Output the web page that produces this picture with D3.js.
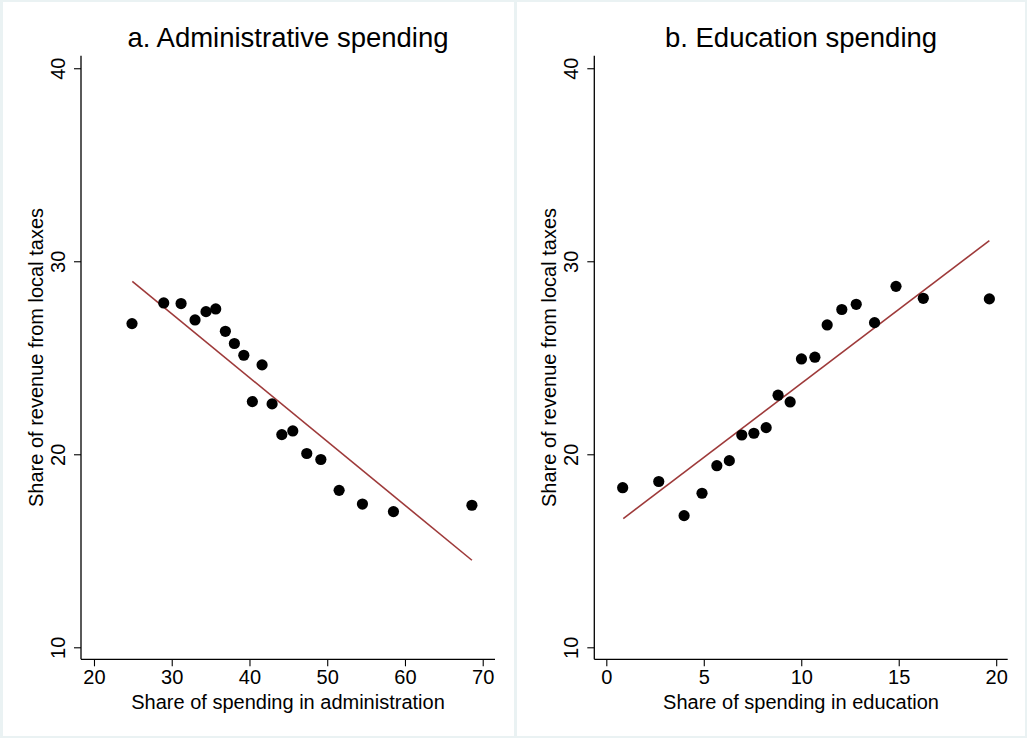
<!DOCTYPE html>
<html>
<head>
<meta charset="utf-8">
<script src="https://cdn.jsdelivr.net/npm/d3@7"></script>
<style>
  html, body { margin: 0; padding: 0; background: #ffffff; }
  svg { display: block; }
  text { font-family: "Liberation Sans", Arial, Helvetica, sans-serif; fill: #000; }
</style>
</head>
<body>
<svg id="chart" width="1027" height="738"></svg>
<script>
// Panel a: share of spending in administration vs. share of revenue from local taxes
const adminX = [24.89, 28.97, 31.20, 33.00, 34.41, 35.66, 36.90, 38.06, 39.27, 41.62,
                40.37, 42.91, 44.16, 45.57, 47.37, 49.18, 51.53, 54.53, 58.52, 68.61];
const adminY = [26.77, 27.84, 27.81, 26.96, 27.39, 27.53, 26.37, 25.74, 25.13, 24.63,
                22.73, 22.61, 21.02, 21.21, 20.04, 19.73, 18.13, 17.42, 17.03, 17.36];
const adminFitX = [24.93, 68.61];
const adminFitY = [28.96, 14.51];

// Panel b: share of spending in education vs. share of revenue from local taxes
const eduX = [0.84, 2.69, 3.99, 4.91, 5.67, 6.31, 6.95, 7.57, 8.20, 8.81,
              9.43, 10.01, 10.70, 11.33, 12.08, 12.82, 13.76, 14.86, 16.26, 19.65];
const eduY = [18.27, 18.59, 16.82, 17.98, 19.41, 19.67, 21.00, 21.09, 21.38, 23.06,
              22.71, 24.94, 25.03, 26.70, 27.50, 27.77, 26.82, 28.70, 28.08, 28.05];
const eduFitX = [0.87, 19.65];
const eduFitY = [16.67, 31.07];

const yTicks = [10, 20, 30, 40];
const adminTicks = [20, 30, 40, 50, 60, 70];
const eduTicks = [0, 5, 10, 15, 20];

const titles = ["a. Administrative spending", "b. Education spending"];
const xTitles = ["Share of spending in administration", "Share of spending in education"];
const yTitle = "Share of revenue from local taxes";

const svg = d3.select("#chart");

// graph-region frame colour around and between the two panels
svg.append("rect").attr("x", 0).attr("y", 0).attr("width", 1027).attr("height", 738)
  .attr("fill", "#eaf2f3");
svg.append("rect").attr("x", 3).attr("y", 2).attr("width", 511).attr("height", 734)
  .attr("fill", "#ffffff");
svg.append("rect").attr("x", 517).attr("y", 2).attr("width", 508).attr("height", 734)
  .attr("fill", "#ffffff");

const panels = [
  { x: adminX, y: adminY, fx: adminFitX, fy: adminFitY, ticks: adminTicks,
    xdom: [18.33, 71.58], left: 81, right: 495, title: titles[0], xt: xTitles[0] },
  { x: eduX, y: eduY, fx: eduFitX, fy: eduFitY, ticks: eduTicks,
    xdom: [-0.616, 20.59], left: 594.3, right: 1007.7, title: titles[1], xt: xTitles[1] }
];

const plotTop = 55.7, plotBottom = 659.3;
const yScale = d3.scaleLinear().domain([9.378, 40.65]).range([plotBottom, plotTop]);

panels.forEach(p => {
  const xScale = d3.scaleLinear().domain(p.xdom).range([p.left, p.right]);
  const g = svg.append("g");

  // x axis
  const xAxis = g.append("g")
    .attr("transform", `translate(0,${plotBottom})`)
    .call(d3.axisBottom(xScale).tickValues(p.ticks).tickSize(7).tickPadding(4).tickFormat(d3.format("d")));
  xAxis.select(".domain").attr("d", `M${p.left},0H${p.right}`).attr("stroke", "#000").attr("stroke-width", 1.3);
  xAxis.selectAll(".tick line").attr("stroke", "#000").attr("stroke-width", 1.1);
  xAxis.selectAll(".tick text").attr("font-size", 20)
    .attr("font-family", "'Liberation Sans', Arial, sans-serif").attr("fill", "#000");

  // y axis, tick labels turned to run along the axis
  const yAxis = g.append("g")
    .attr("transform", `translate(${p.left},0)`)
    .call(d3.axisLeft(yScale).tickValues(yTicks).tickSize(7).tickFormat(d3.format("d")));
  yAxis.select(".domain").attr("d", `M0,${plotTop}V${plotBottom}`).attr("stroke", "#000").attr("stroke-width", 1.3);
  yAxis.selectAll(".tick line").attr("stroke", "#000").attr("stroke-width", 1.1);
  yAxis.selectAll(".tick text")
    .attr("x", null).attr("dy", null)
    .attr("transform", "translate(-16,0) rotate(-90)")
    .attr("text-anchor", "middle")
    .attr("font-size", 20)
    .attr("font-family", "'Liberation Sans', Arial, sans-serif").attr("fill", "#000");

  // fitted line
  g.append("line")
    .attr("x1", xScale(p.fx[0])).attr("y1", yScale(p.fy[0]))
    .attr("x2", xScale(p.fx[1])).attr("y2", yScale(p.fy[1]))
    .attr("stroke", "#9e3a3a").attr("stroke-width", 1.6);

  // binned means
  g.selectAll("circle.pt").data(d3.range(p.x.length)).join("circle")
    .attr("class", "pt")
    .attr("cx", i => xScale(p.x[i]))
    .attr("cy", i => yScale(p.y[i]))
    .attr("r", 5.6)
    .attr("fill", "#000");

  const cx = (p.left + p.right) / 2;
  g.append("text").attr("x", cx).attr("y", 47).attr("text-anchor", "middle")
    .attr("font-size", 27.5).text(p.title);
  g.append("text").attr("x", cx).attr("y", 709).attr("text-anchor", "middle")
    .attr("font-size", 20).text(p.xt);
  g.append("text")
    .attr("transform", `translate(${p.left - 38},${(plotTop + plotBottom) / 2}) rotate(-90)`)
    .attr("text-anchor", "middle").attr("font-size", 20).text(yTitle);
});
</script>
</body>
</html>
